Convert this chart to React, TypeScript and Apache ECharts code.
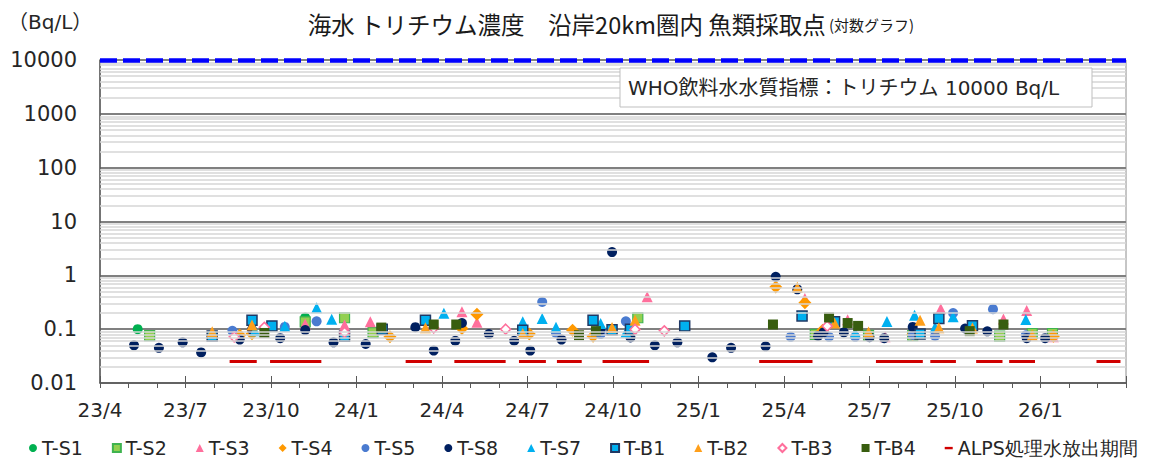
import React, { useEffect, useRef } from 'react';
import * as echarts from 'echarts';

// ---------- data ----------
const xTickLabels = ['23/4', '23/7', '23/10', '24/1', '24/4', '24/7', '24/10', '25/1', '25/4', '25/7', '25/10', '26/1'];
const yTickLabels = ['0.01', '0.1', '1', '10', '100', '1000', '10000'];
const whoLimit = 10000;
const alpsLevel = 0.025;
const axisStart = '2023-04-01';
const axisEnd = '2026-04-01';

const alpsPeriods: [string, string][] = [
  ['2023-08-18', '2023-09-16'],
  ['2023-09-30', '2023-10-28'], ['2023-10-28', '2023-11-24'],
  ['2024-02-22', '2024-03-21'],
  ['2024-04-14', '2024-05-11'], ['2024-05-11', '2024-06-08'],
  ['2024-06-22', '2024-07-21'],
  ['2024-08-02', '2024-08-29'],
  ['2024-09-20', '2024-10-15'], ['2024-10-15', '2024-11-09'],
  ['2025-03-05', '2025-04-03'], ['2025-04-03', '2025-05-01'],
  ['2025-07-08', '2025-08-02'], ['2025-08-02', '2025-08-28'],
  ['2025-09-05', '2025-10-02'],
  ['2025-10-24', '2025-11-21'],
  ['2025-11-28', '2025-12-26'],
  ['2026-02-28', '2026-03-26'],
];

const tS1: [string, number][] = [
  ['2023-05-11', 0.1], ['2023-11-07', 0.165],
];
const tS2: [string, number][] = [
  ['2023-05-24', 0.076], ['2023-11-07', 0.137], ['2023-12-19', 0.163], ['2024-01-19', 0.086],
  ['2024-10-28', 0.163], ['2025-05-04', 0.08], ['2025-06-30', 0.077], ['2025-08-17', 0.076],
  ['2025-11-18', 0.074], ['2025-12-23', 0.083], ['2026-01-14', 0.083],
];
const tS3: [string, number][] = [
  ['2023-11-07', 0.125], ['2023-12-19', 0.12], ['2024-01-16', 0.137], ['2024-04-22', 0.21],
  ['2024-05-08', 0.135], ['2024-11-07', 0.4], ['2025-04-23', 0.37], ['2025-06-08', 0.15],
  ['2025-07-18', 0.072], ['2025-09-16', 0.24], ['2025-11-22', 0.155], ['2025-12-17', 0.222],
  ['2026-01-15', 0.072],
];
const tS4: [string, number][] = [
  ['2023-08-29', 0.077], ['2023-09-11', 0.082], ['2024-02-06', 0.072], ['2024-04-22', 0.103],
  ['2024-05-08', 0.19], ['2024-07-03', 0.081], ['2024-08-19', 0.095], ['2024-09-10', 0.074],
  ['2025-03-23', 0.61], ['2025-04-23', 0.31], ['2025-05-12', 0.095], ['2025-08-17', 0.08],
  ['2026-01-15', 0.074],
];
const tS5: [string, number][] = [
  ['2023-08-21', 0.093], ['2023-10-16', 0.11], ['2023-11-19', 0.14], ['2024-07-17', 0.32],
  ['2024-08-01', 0.085], ['2024-09-18', 0.081], ['2024-10-15', 0.14], ['2025-04-08', 0.072],
  ['2025-05-19', 0.072], ['2025-06-16', 0.072], ['2025-08-17', 0.078], ['2025-09-10', 0.075],
  ['2025-09-29', 0.2], ['2025-11-11', 0.235], ['2025-12-16', 0.077],
];
const tS8: [string, number][] = [
  ['2023-05-07', 0.05], ['2023-06-03', 0.045], ['2023-06-28', 0.057], ['2023-07-18', 0.037],
  ['2023-08-29', 0.064], ['2023-09-11', 0.098], ['2023-10-11', 0.068], ['2023-11-07', 0.096],
  ['2023-12-07', 0.057], ['2024-01-11', 0.053], ['2024-03-03', 0.109], ['2024-03-23', 0.04],
  ['2024-04-15', 0.061], ['2024-04-22', 0.13], ['2024-05-21', 0.081], ['2024-06-17', 0.061],
  ['2024-07-04', 0.04], ['2024-08-07', 0.064], ['2024-09-18', 0.096], ['2024-09-30', 2.7],
  ['2024-10-20', 0.07], ['2024-11-15', 0.05], ['2024-12-09', 0.057], ['2025-01-16', 0.03],
  ['2025-02-05', 0.045], ['2025-03-12', 0.048], ['2025-03-23', 0.94], ['2025-04-15', 0.55],
  ['2025-05-07', 0.075], ['2025-05-13', 0.087], ['2025-06-04', 0.087], ['2025-07-01', 0.071],
  ['2025-07-17', 0.068], ['2025-08-17', 0.11], ['2025-10-12', 0.103], ['2025-11-05', 0.091],
  ['2025-12-17', 0.068], ['2026-01-06', 0.068],
];
const tS7: [string, number][] = [
  ['2023-09-14', 0.093], ['2023-10-16', 0.113], ['2023-11-19', 0.25], ['2023-12-05', 0.153],
  ['2024-04-03', 0.197], ['2024-06-26', 0.138], ['2024-07-17', 0.158], ['2024-08-01', 0.109],
  ['2024-09-18', 0.127], ['2024-10-15', 0.088], ['2025-06-16', 0.085], ['2025-07-20', 0.139],
  ['2025-08-19', 0.182], ['2025-09-10', 0.108], ['2025-09-29', 0.17], ['2025-12-16', 0.152],
];
const tB1: [string, number][] = [
  ['2023-07-30', 0.075], ['2023-09-11', 0.147], ['2023-10-02', 0.115], ['2023-12-19', 0.074],
  ['2024-01-29', 0.1], ['2024-03-14', 0.147], ['2024-06-26', 0.095], ['2024-09-10', 0.147],
  ['2024-09-30', 0.098], ['2024-10-20', 0.1], ['2024-12-17', 0.115], ['2025-04-20', 0.176],
  ['2025-05-25', 0.137], ['2025-08-25', 0.081], ['2025-09-14', 0.158], ['2025-10-20', 0.116],
];
const tB2: [string, number][] = [
  ['2023-07-30', 0.09], ['2023-09-11', 0.119], ['2024-03-14', 0.106], ['2024-06-26', 0.083],
  ['2024-09-30', 0.107], ['2024-10-25', 0.147], ['2025-04-15', 0.6], ['2025-05-25', 0.13],
  ['2025-06-30', 0.089], ['2025-08-25', 0.147], ['2025-09-14', 0.106], ['2025-10-20', 0.105],
  ['2025-12-23', 0.078],
];
const tB3: [string, number][] = [
  ['2023-08-23', 0.072], ['2023-09-24', 0.108], ['2023-12-19', 0.087], ['2024-03-23', 0.105],
  ['2024-06-08', 0.1], ['2024-10-25', 0.099], ['2024-11-25', 0.093], ['2025-05-17', 0.114],
];
const tB4: [string, number][] = [
  ['2023-09-24', 0.085], ['2024-01-28', 0.107], ['2024-03-23', 0.122], ['2024-04-16', 0.122],
  ['2024-08-26', 0.077], ['2024-09-13', 0.092], ['2025-03-20', 0.122], ['2025-05-19', 0.165],
  ['2025-06-08', 0.13], ['2025-06-19', 0.115], ['2025-10-17', 0.092], ['2025-11-22', 0.122],
];

const alpsName = 'ALPS処理水放出期間';

// ---------- helpers ----------
function monthIndex(d: string): number {
  const [y, m, dd] = d.split('-').map(Number);
  const dim = new Date(y, m, 0).getDate();
  const [y0, m0] = axisStart.split('-').map(Number);
  return (y - y0) * 12 + (m - m0) + (dd - 1) / dim;
}

const FONT = '"DejaVu Sans", "Noto Sans CJK JP", sans-serif';
const JFONT = '"Noto Sans CJK JP", sans-serif';
const TEXT = '#262626';

const stations = [
  { name: 'T-S1', data: tS1, symbol: 'circle', size: 10, color: '#00b050' },
  { name: 'T-S2', data: tS2, symbol: 'rect', size: 10, color: '#92d050', border: '#3fb34f', bw: 1.2 },
  { name: 'T-S3', data: tS3, symbol: 'triangle', size: 11, color: '#ff6f9c' },
  { name: 'T-S4', data: tS4, symbol: 'diamond', size: 13, color: '#ff9900' },
  { name: 'T-S5', data: tS5, symbol: 'circle', size: 10, color: '#4a7bd0' },
  { name: 'T-S8', data: tS8, symbol: 'circle', size: 10, color: '#002060' },
  { name: 'T-S7', data: tS7, symbol: 'triangle', size: 11, color: '#00b0f0' },
  { name: 'T-B1', data: tB1, symbol: 'rect', size: 10, color: '#00b0f0', border: '#1f3864', bw: 1.5 },
  { name: 'T-B2', data: tB2, symbol: 'triangle', size: 11, color: '#ff9f1a' },
  { name: 'T-B3', data: tB3, symbol: 'diamond', size: 10, color: '#ffffff', border: '#ff6f9c', bw: 1.5 },
  { name: 'T-B4', data: tB4, symbol: 'rect', size: 10, color: '#385d0f' },
];

export default function App() {
  const ref = useRef<HTMLDivElement>(null);

  useEffect(() => {
    document.body.style.margin = '0';
    if (!ref.current) return;
    const chart = echarts.init(ref.current, null, { renderer: 'svg' });

    const minorGrid: number[] = [];
    for (let e = -2; e < 4; e++) {
      for (let k = 2; k <= 9; k++) minorGrid.push(k * Math.pow(10, e));
    }

    const alpsData: any[] = [];
    alpsPeriods.forEach(([s, e]) => {
      alpsData.push([monthIndex(s), alpsLevel]);
      alpsData.push([monthIndex(e), alpsLevel]);
      alpsData.push([monthIndex(e), '-']);
    });

    const xMax = monthIndex(axisEnd);

    const option: any = {
      animation: false,
      grid: { left: 100, right: 33, top: 60, bottom: 76, show: true, borderColor: '#8c8c8c', borderWidth: 1 },
      xAxis: [
        {
          type: 'value', min: 0, max: xMax, interval: 1, position: 'bottom',
          axisLine: { show: true, onZero: false, lineStyle: { color: '#595959', width: 1.5 } },
          axisTick: { show: true, length: 5, lineStyle: { color: '#595959' } },
          axisLabel: {
            fontSize: 20, fontFamily: FONT, color: TEXT, margin: 17,
            formatter: (v: number) => (v % 3 === 0 && xTickLabels[v / 3]) ? xTickLabels[v / 3] : '',
          },
          splitLine: { show: false },
        },
        {
          type: 'value', min: 0, max: xMax, interval: 3, position: 'bottom',
          axisLine: { show: false },
          axisTick: { show: true, inside: true, length: 7, lineStyle: { color: '#595959' } },
          axisLabel: { show: false },
          splitLine: { show: false },
        },
      ],
      yAxis: {
        type: 'log', logBase: 10, min: 0.01, max: 10000,
        axisLine: { show: true, lineStyle: { color: '#595959', width: 1.5 } },
        axisTick: { show: false },
        axisLabel: {
          fontSize: 21, fontFamily: FONT, color: TEXT, margin: 23,
          formatter: (v: number) => yTickLabels[Math.round(Math.log10(v)) + 2] ?? '',
        },
        splitLine: { show: true, lineStyle: { color: '#808080', width: 2 } },
      },
      legend: {
        data: [
          ...stations.map((s) => s.name),
          { name: alpsName, icon: 'path://M0,0 L0,0 M0,3.6 L10,3.6 L10,6.6 L0,6.6 Z M10,10 L10,10' },
        ],
        left: 24, top: 433, itemWidth: 8, itemHeight: 8, itemGap: 29,
        textStyle: { fontSize: 19, fontFamily: '"DejaVu Sans"', color: TEXT, lineHeight: 20 },
      },
      graphic: [
        { type: 'text', left: 8, top: 12, style: { text: '（Bq/L）', font: `20px ${FONT}`, fill: TEXT } },
        {
          type: 'text', x: 611, y: 24,
          style: {
            text: '{a|海水 トリチウム濃度　沿岸20km圏内 魚類採取点} {b|(対数グラフ)}',
            align: 'center', verticalAlign: 'middle',
            rich: {
              a: { fontSize: 23.5, fontFamily: JFONT, fill: '#1a1a1a' },
              b: { fontSize: 15, fontFamily: JFONT, fill: '#1a1a1a' },
            },
          },
        },
        {
          type: 'rect', z: 100, shape: { x: 620, y: 68, width: 472, height: 39 },
          style: { fill: '#ffffff', stroke: '#bfbfbf', lineWidth: 1 },
        },
        {
          type: 'text', z: 101, x: 628, y: 88,
          style: { text: 'WHO飲料水水質指標：トリチウム 10000 Bq/L', font: `20px ${FONT}`, fill: TEXT, verticalAlign: 'middle' },
        },
      ],
      series: [
        {
          type: 'line', name: 'minor-grid', data: [], silent: true, z: 1,
          markLine: {
            silent: true, symbol: ['none', 'none'], label: { show: false },
            lineStyle: { color: '#d6d6d6', width: 1.5, type: 'solid' },
            emphasis: { disabled: true },
            data: minorGrid.map((v) => ({ yAxis: v })),
          },
        },
        {
          type: 'line', name: 'WHO', data: [], silent: true, z: 5,
          markLine: {
            silent: true, symbol: ['none', 'none'], label: { show: false },
            lineStyle: { color: '#0000ff', width: 4.5, type: [17, 6] },
            emphasis: { disabled: true },
            data: [{ yAxis: whoLimit }],
          },
        },
        {
          type: 'line', name: alpsName, data: alpsData, symbol: 'none', z: 2,
          lineStyle: { color: '#d00000', width: 3 }, itemStyle: { color: '#d00000' },
          connectNulls: false,
        },
        ...stations.map((s, i) => ({
          type: 'scatter', name: s.name, z: 3 + i * 0.01,
          data: s.data.map(([d, v]) => [monthIndex(d), v]),
          symbol: s.symbol, symbolSize: s.size,
          itemStyle: { color: s.color, borderColor: s.border ?? s.color, borderWidth: s.bw ?? 0, opacity: 1 },
        })),
      ],
    };

    chart.setOption(option);
    return () => chart.dispose();
  }, []);

  return <div ref={ref} style={{ width: 1159, height: 459 }} />;
}
